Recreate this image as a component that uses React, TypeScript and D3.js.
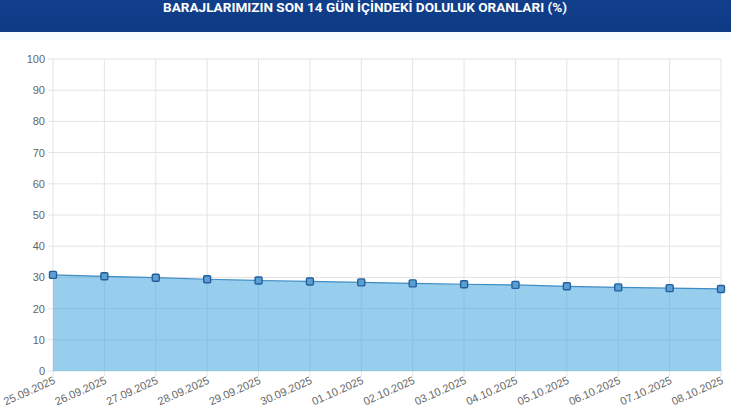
import React from "react";
import * as d3 from "d3";

const title = "BARAJLARIMIZIN SON 14 GÜN İÇİNDEKİ DOLULUK ORANLARI (%)";
const dates = [
  "25.09.2025", "26.09.2025", "27.09.2025", "28.09.2025", "29.09.2025",
  "30.09.2025", "01.10.2025", "02.10.2025", "03.10.2025", "04.10.2025",
  "05.10.2025", "06.10.2025", "07.10.2025", "08.10.2025",
];
const values = [30.8, 30.35, 29.9, 29.4, 29.0, 28.7, 28.4, 28.1, 27.8, 27.6, 27.15, 26.8, 26.55, 26.3];
const yTicks = [0, 10, 20, 30, 40, 50, 60, 70, 80, 90, 100];

const W = 731;
const H = 410;
const left = 53;
const right = 721;
const top = 59;
const bottom = 371;

export default function App() {
  const x = d3.scalePoint<string>().domain(dates).range([left, right]);
  const y = d3.scaleLinear().domain([0, 100]).range([bottom, top]);
  const data = dates.map((d, i) => ({ d, v: values[i] }));
  const area = d3
    .area<{ d: string; v: number }>()
    .x((p) => x(p.d)!)
    .y0(y(0))
    .y1((p) => y(p.v));
  const line = d3
    .line<{ d: string; v: number }>()
    .x((p) => x(p.d)!)
    .y((p) => y(p.v));
  const grid = "#e4e4e4";
  const font = "'Liberation Sans', Arial, Helvetica, sans-serif";
  return (
    <svg
      width={W}
      height={H}
      style={{ position: "absolute", left: 0, top: 0, display: "block", background: "#fff" }}
    >
      <defs>
        <linearGradient id="hdr" x1="0" y1="0" x2="0" y2="1">
          <stop offset="0" stopColor="#123f8c" />
          <stop offset="1" stopColor="#0d3a84" />
        </linearGradient>
      </defs>
      <rect x={0} y={0} width={W} height={32} fill="url(#hdr)" />
      <rect x={0} y={32} width={W} height={8} fill="#f6fbff" />
      <text
        x={365}
        y={12}
        textAnchor="middle"
        fill="#fff"
        fontFamily="Roboto, 'Open Sans', sans-serif"
        fontWeight={700}
        fontSize={13}
        textLength={404}
        lengthAdjust="spacingAndGlyphs"
      >
        {title}
      </text>

      {/* horizontal grid */}
      {yTicks.map((t) => (
        <line key={"h" + t} x1={48} x2={right} y1={y(t)} y2={y(t)} stroke={grid} strokeWidth={1} />
      ))}
      {/* vertical grid */}
      {dates.map((d) => (
        <line key={"v" + d} x1={x(d)} x2={x(d)} y1={top} y2={bottom + 5} stroke={grid} strokeWidth={1} />
      ))}

      <path d={area(data)!} fill="#2f9bdc" fillOpacity={0.5} />
      <path d={line(data)!} fill="none" stroke="#3f8cc4" strokeWidth={1.2} />
      {data.map((p) => (
        <rect
          key={"p" + p.d}
          x={x(p.d)! - 3.5}
          y={y(p.v) - 3.5}
          width={7}
          height={7}
          rx={1.2}
          fill="#5c9fd2"
          stroke="#245f9c"
          strokeWidth={1.4}
        />
      ))}

      {yTicks.map((t) => (
        <text
          key={"yl" + t}
          x={45}
          y={y(t) + 4}
          textAnchor="end"
          fill="#666"
          fontFamily={font}
          fontSize={11}
        >
          {t}
        </text>
      ))}
      {dates.map((d) => (
        <text
          key={"xl" + d}
          transform={`translate(${x(d)! + 3},${bottom + 12}) rotate(-24)`}
          textAnchor="end"
          fill="#666"
          fontFamily={font}
          fontSize={11}
        >
          {d}
        </text>
      ))}
    </svg>
  );
}
